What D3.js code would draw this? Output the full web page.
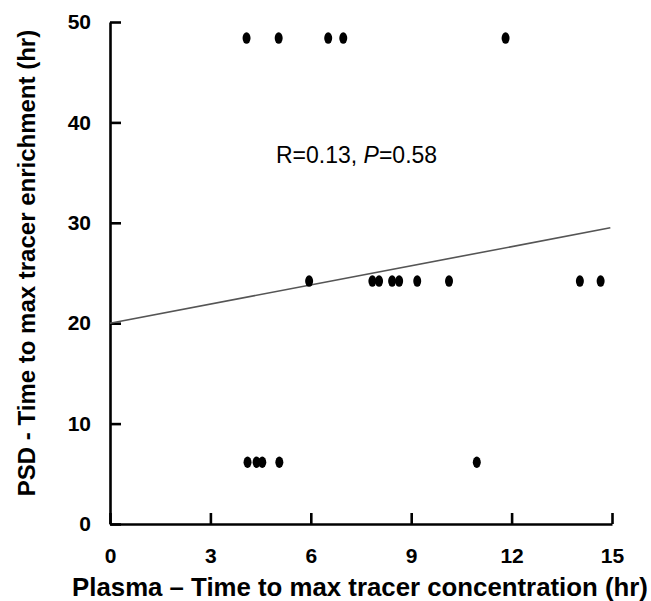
<!DOCTYPE html>
<html>
<head>
<meta charset="utf-8">
<script src="https://cdn.jsdelivr.net/npm/d3@7"></script>
<style>
  body { margin: 0; background: #fff; }
  svg { display: block; font-family: "Liberation Sans", Arial, sans-serif; }
</style>
</head>
<body>
<svg id="chart" width="651" height="601"></svg>
<script>
// Plasma time to max tracer concentration (hr)
const plasmaHr = [
    4.08, 5.04, 6.52, 6.97, 11.82,
    5.95, 7.84, 8.04, 8.43, 8.64, 9.18, 10.13, 14.04, 14.66,
    4.11, 4.38, 4.55, 5.06, 10.96
];
// PSD time to max tracer enrichment (hr)
const psdHr = [
    48.4, 48.4, 48.4, 48.4, 48.4,
    24.2, 24.2, 24.2, 24.2, 24.2, 24.2, 24.2, 24.2, 24.2,
    6.15, 6.15, 6.15, 6.15, 6.15
];
// regression line
const fitX = [0, 14.95];
const fitY = [20, 29.5];

const xTicks = [0, 3, 6, 9, 12, 15];
const yTicks = [0, 10, 20, 30, 40, 50];

const svg = d3.select('#chart');

const x = d3.scaleLinear().domain([0, 15]).range([110, 612]);
const y = d3.scaleLinear().domain([0, 50]).range([524, 22]);

// axes
const xAxis = svg.append('g')
    .attr('transform', `translate(0,${y(0)})`)
    .call(d3.axisBottom(x).tickValues(xTicks).tickSizeInner(-11).tickSizeOuter(0).tickPadding(24));

const yAxis = svg.append('g')
    .attr('transform', `translate(${x(0)},0)`)
    .call(d3.axisLeft(y).tickValues(yTicks).tickSizeInner(-11).tickSizeOuter(0).tickPadding(19));

[xAxis, yAxis].forEach(ax => {
    ax.select('.domain').attr('stroke', '#000').attr('stroke-width', 2.6);
    ax.selectAll('.tick line').attr('stroke', '#000').attr('stroke-width', 2.6);
    ax.selectAll('.tick text')
        .attr('fill', '#000')
        .style('font-family', '"Liberation Sans", Arial, sans-serif')
        .style('font-size', '21px')
        .style('font-weight', 'bold');
});

// regression line
svg.append('line')
    .attr('x1', x(fitX[0])).attr('y1', y(fitY[0]))
    .attr('x2', x(fitX[1])).attr('y2', y(fitY[1]))
    .attr('stroke', '#555')
    .attr('stroke-width', 1.6);

// points
svg.append('g')
    .selectAll('ellipse')
    .data(plasmaHr.map((v, i) => [v, psdHr[i]]))
    .enter().append('ellipse')
    .attr('cx', d => x(d[0]))
    .attr('cy', d => y(d[1]))
    .attr('rx', 4)
    .attr('ry', 5.8)
    .attr('fill', '#000');

// annotation
const note = svg.append('text')
    .attr('x', 276)
    .attr('y', 163)
    .style('font-size', '23px')
    .attr('fill', '#000');
note.append('tspan').text('R=0.13, ');
note.append('tspan').style('font-style', 'italic').text('P');
note.append('tspan').text('=0.58');

// axis titles
svg.append('text')
    .attr('x', 360)
    .attr('y', 596)
    .attr('text-anchor', 'middle')
    .style('font-size', '25.8px')
    .style('font-weight', 'bold')
    .text('Plasma \u2013 Time to max tracer concentration (hr)');

svg.append('text')
    .attr('transform', 'translate(35,263) rotate(-90)')
    .attr('text-anchor', 'middle')
    .style('font-size', '24px')
    .style('font-weight', 'bold')
    .text('PSD - Time to max tracer enrichment (hr)');
</script>
</body>
</html>
